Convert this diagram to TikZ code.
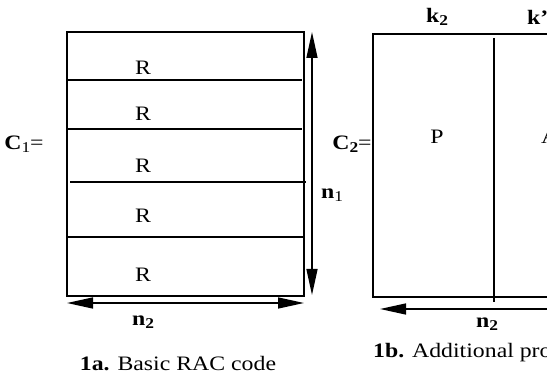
\documentclass[tikz,border=0pt]{standalone}
\usepackage{fontspec}
\setmainfont{Liberation Serif}[FakeStretch=1.16]
\usetikzlibrary{arrows.meta}
\newcommand\lsub[1]{\raisebox{-0.35ex}{\fontsize{15}{15}\selectfont #1}}
\begin{document}
\begin{tikzpicture}[x=1pt,y=-1pt,
  lbl/.style={inner sep=0pt,font=\fontsize{20.5}{23}\selectfont},
  frame/.style={line width=2pt},
  divline/.style={line width=2.6pt},
  dimarrow/.style={line width=1.4pt,-{Triangle[length=26pt,width=11pt]}},
  dimarrows/.style={line width=1.4pt,{Triangle[length=26pt,width=11pt]}-{Triangle[length=26pt,width=11pt]}}]
\useasboundingbox (0,0) rectangle (547,377);
\clip (0,0) rectangle (547,377);
% left figure
\draw[frame] (67,32) rectangle (304,296);
\draw[divline] (67,80) -- (302,80);
\draw[divline] (67,129) -- (302,129);
\draw[divline] (70,182) -- (306,182);
\draw[divline] (67,237) -- (303,237);
\node[lbl] (r1) at (143,68) {R};
\node[lbl] (r2) at (143,114) {R};
\node[lbl] (r3) at (143,166) {R};
\node[lbl] (r4) at (143,216) {R};
\node[lbl] (r5) at (143,275) {R};
\node[lbl] (c1) at (24,144) {\textbf{C}\lsub{1}=};
\coordinate (vt) at (312,32);
\coordinate (vb) at (312,295);
\draw[dimarrows] (vt) -- (vb);
\node[lbl] (n1) at (332,195) {\textbf{n}\lsub{1}};
\coordinate (hl) at (67,303);
\coordinate (hr) at (304,303);
\draw[dimarrows] (hl) -- (hr);
\node[lbl] (n2a) at (143,322) {\textbf{n\lsub{2}}};
\node[lbl] (capa) at (178,364) {\textbf{1a.} Basic RAC code};
% right figure
\draw[frame] (560,34) -- (373,34) -- (373,297) -- (560,297);
\draw[line width=2.8pt] (494,38) -- (494,302);
\node[lbl] (c2) at (352,144) {\textbf{C\lsub{2}}=};
\node[lbl] (k2) at (437,17) {\textbf{k\lsub{2}}};
\node[lbl,anchor=west] (kp) at (527,17) {\textbf{k'}};
\node[lbl] (p) at (437,137) {P};
\node[lbl,anchor=west] (a) at (541,137) {A};
\coordinate (rt) at (380,309);
\coordinate (re) at (560,309);
\draw[dimarrow] (re) -- (rt);
\node[lbl] (n2b) at (487,324) {\textbf{n\lsub{2}}};
\node[lbl,anchor=west] (capb) at (373,353) {\textbf{1b.} Additional pro};
\end{tikzpicture}
\end{document}
